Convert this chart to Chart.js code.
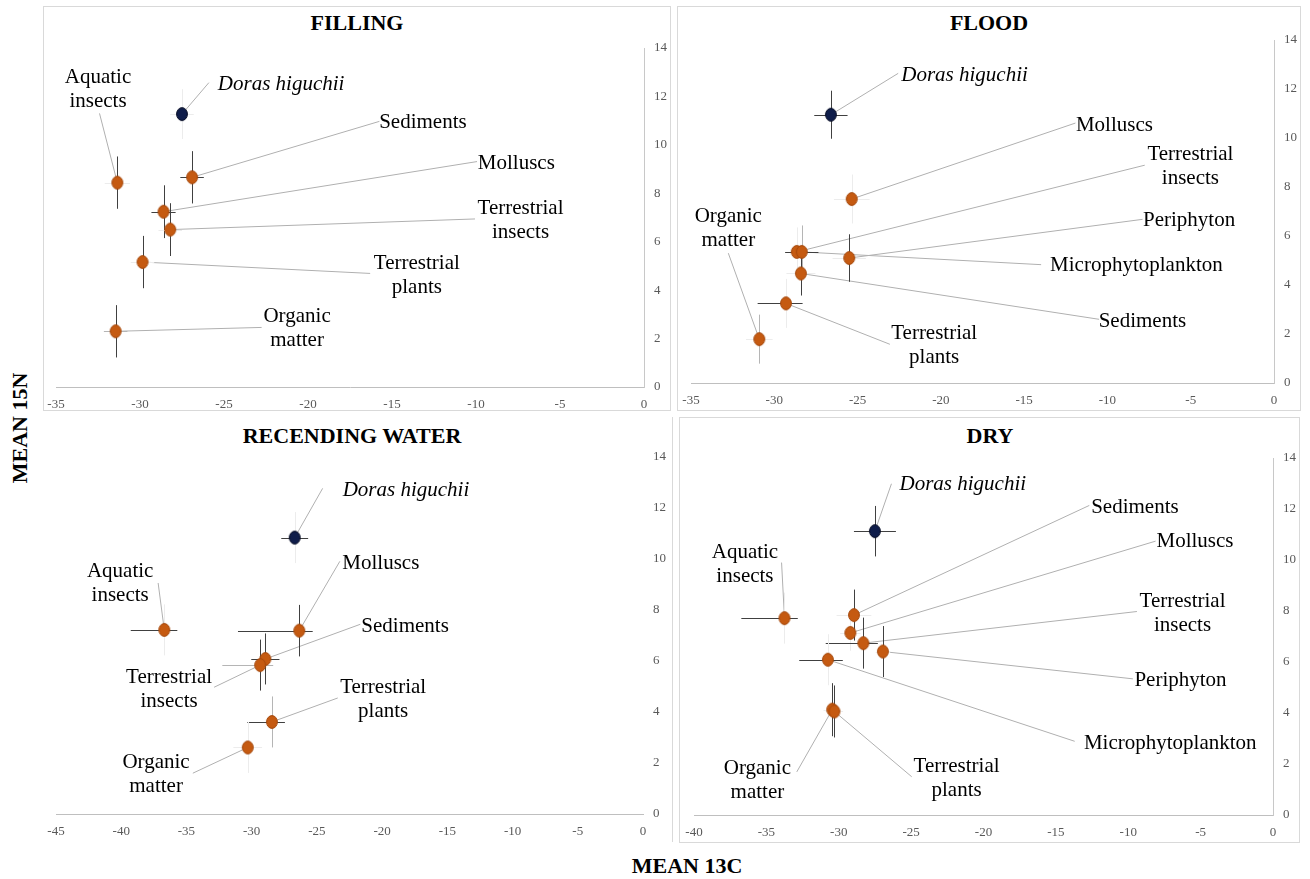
<!DOCTYPE html>
<html>
<head>
<meta charset="utf-8">
<script src="https://cdn.jsdelivr.net/npm/chart.js@4.4.1/dist/chart.umd.min.js"></script>
<style>
  body { margin: 0; background: #fff; }
  #page { position: relative; width: 1310px; height: 879px; overflow: hidden; font-family: "Liberation Serif", "Times New Roman", serif; }
  #page canvas { position: absolute; left: 0; top: 0; }
  .box { position: absolute; border: 1px solid #d9d9d9; box-sizing: border-box; }
  .title { position: absolute; font-weight: bold; font-size: 22px; transform: translate(-50%, -50%); white-space: nowrap; color: #000; }
</style>
</head>
<body>
<div id="page">
  <div class="box" style="left:43px;top:6px;width:628px;height:405px"></div>
  <div class="box" style="left:677px;top:6px;width:624px;height:405px"></div>
  <div style="position:absolute;left:672px;top:417px;width:1px;height:425px;background:#d9d9d9"></div>
  <div class="box" style="left:679px;top:417px;width:621px;height:426px"></div>

  <div class="title" style="left:357px;top:23px">FILLING</div>
  <div class="title" style="left:989px;top:23px">FLOOD</div>
  <div class="title" style="left:352px;top:436px">RECENDING WATER</div>
  <div class="title" style="left:990px;top:436px">DRY</div>
  <div class="title" style="left:20px;top:428px;transform:translate(-50%,-50%) rotate(-90deg)">MEAN 15N</div>
  <div class="title" style="left:687px;top:866px">MEAN 13C</div>

  <canvas id="filling" width="1310" height="879"></canvas>
  <canvas id="flood" width="1310" height="879"></canvas>
  <canvas id="receding" width="1310" height="879"></canvas>
  <canvas id="dry" width="1310" height="879"></canvas>
</div>
<script>
// FILLING
const fillingNames = ["Doras higuchii", "Aquatic insects", "Sediments", "Molluscs", "Terrestrial insects", "Terrestrial plants", "Organic matter"]
const fillingC = [-27.5, -31.35, -26.9, -28.6, -28.2, -29.85, -31.45]
const fillingN = [11.27, 8.44, 8.66, 7.24, 6.5, 5.16, 2.3]
const fillingCErr = [0.7, 0.75, 0.7, 0.72, 0.7, 0.7, 0.7]
const fillingNErr = [1.03, 1.08, 1.08, 1.09, 1.09, 1.08, 1.08]
const fillingXRange = [-35, 0]

// FLOOD
const floodNames = ["Doras higuchii", "Molluscs", "Terrestrial insects", "Periphyton", "Microphytoplankton", "Sediments", "Terrestrial plants", "Organic matter"]
const floodC = [-26.6, -25.35, -28.65, -25.5, -28.35, -28.4, -29.3, -30.9]
const floodN = [10.95, 7.51, 5.35, 5.1, 5.35, 4.47, 3.25, 1.79]
const floodCErr = [1.0, 1.07, 0.6, 1.0, 1.0, 0.87, [1.7, 1.0], 0.8]
const floodNErr = [0.98, 1.0, 1.0, 0.97, 1.08, 0.9, 1.0, 1.0]
const floodXRange = [-35, 0]

// RECENDING WATER
const recedingNames = ["Doras higuchii", "Aquatic insects", "Molluscs", "Sediments", "Terrestrial insects", "Terrestrial plants", "Organic matter"]
const recedingC = [-26.7, -36.7, -26.35, -28.95, -29.35, -28.45, -30.3]
const recedingN = [10.84, 7.22, 7.19, 6.08, 5.84, 3.61, 2.61]
const recedingCErr = [1.03, [2.57, 1.0], [4.7, 1.03], 1.08, [2.9, 1.0], [1.88, 1.0], 1.1]
const recedingNErr = [1.0, 1.0, 1.01, 1.0, 1.0, 1.0, 1.0]
const recedingXRange = [-45, 0]

// DRY
const dryNames = ["Doras higuchii", "Sediments", "Molluscs", "Aquatic insects", "Terrestrial insects", "Periphyton", "Microphytoplankton", "Organic matter", "Terrestrial plants"]
const dryC = [-27.5, -28.95, -29.2, -33.75, -28.3, -26.95, -30.75, -30.45, -30.3]
const dryN = [11.13, 7.84, 7.14, 7.72, 6.74, 6.41, 6.09, 4.13, 4.06]
const dryCErr = [1.45, 1.2, 0.7, [2.98, 0.92], [2.6, 1.0], 0.5, [1.98, 1.03], 0.6, 0.6]
const dryNErr = [0.99, 1.0, 0.7, 1.0, 1.0, 1.0, 1.0, 1.04, 1.02]
const dryXRange = [-40, 0]

const nRange = [0, 14]

// label placement: [text x, text y, leader start x, leader start y] in axis units
const fillingLabelAt = [
  [-21.6, 12.48, -25.9, 12.57], [-32.5, 12.28, -32.41, 11.3], [-13.16, 10.92, -15.75, 10.97],
  [-7.6, 9.24, -9.94, 9.31], [-7.35, 6.88, -10.06, 6.94], [-13.52, 4.61, -16.3, 4.69], [-20.65, 2.43, -22.76, 2.46]
]
const floodLabelAt = [
  [-18.58, 12.54, -22.56, 12.64], [-9.58, 10.51, -11.92, 10.61], [-5.02, 8.82, -7.76, 8.89], [-5.1, 6.63, -7.89, 6.68],
  [-8.26, 4.79, -13.98, 4.83], [-7.9, 2.5, -10.5, 2.6], [-20.4, 1.53, -23.06, 1.58], [-32.76, 6.3, -32.76, 5.3]
]
const recedingLabelAt = [
  [-18.17, 12.7, -24.56, 12.77], [-40.08, 9.04, -37.17, 9.06], [-20.1, 9.82, -23.24, 9.91], [-18.24, 7.35, -21.67, 7.44],
  [-36.33, 4.88, -32.88, 4.97], [-19.92, 4.49, -23.4, 4.55], [-37.33, 1.55, -34.51, 1.6]
]
const dryLabelAt = [
  [-21.43, 12.96, -26.36, 12.99], [-9.54, 12.05, -12.69, 12.14], [-5.39, 10.72, -8.11, 10.74], [-36.48, 9.83, -33.95, 9.9],
  [-6.25, 7.92, -9.4, 7.98], [-6.39, 5.27, -9.68, 5.34], [-7.1, 2.8, -13.7, 2.89], [-35.62, 1.37, -32.9, 1.69], [-21.86, 1.45, -24.96, 1.5]
]

// error bar tone: x/y = almost invisible, X/Y = light grey, otherwise dark
const fillingBarTone = ["xy", "x", "", "", "x", "x", "X"]
const floodBarTone = ["", "xy", "xy", "x", "Y", "x", "y", "xY"]
const recedingBarTone = ["y", "y", "", "", "X", "Y", "xy"]
const dryBarTone = ["", "x", "xy", "y", "", "x", "y", "x", "x"]

function dot(fill, edge) {
  const c = document.createElement("canvas")
  c.width = 14
  c.height = 16
  const g = c.getContext("2d")
  g.beginPath()
  g.ellipse(7, 8, 5.4, 6.4, 0, 0, Math.PI * 2)
  g.fillStyle = fill
  g.fill()
  g.lineWidth = 1
  g.strokeStyle = edge
  g.stroke()
  return c
}
const orangeDot = dot("#c55a11", "#a3470b")
const navyDot = dot("#0f1d4a", "#050b22")

function toneColor(tone, axis) {
  if (tone.includes(axis)) return "#ececec"
  if (tone.includes(axis.toUpperCase())) return "#b5b5b5"
  return "#404040"
}

function annotations(p) {
  return {
    id: "annotations",
    beforeDatasetsDraw(chart) {
      const { ctx } = chart
      const xs = chart.scales.x
      const ys = chart.scales.y
      ctx.save()
      ctx.lineWidth = 1
      ctx.strokeStyle = "#b0b0b0"
      p.names.forEach((name, i) => {
        const a = p.labelAt[i]
        ctx.beginPath()
        ctx.moveTo(xs.getPixelForValue(a[2]), ys.getPixelForValue(a[3]))
        ctx.lineTo(xs.getPixelForValue(p.c[i]), ys.getPixelForValue(p.n[i]))
        ctx.stroke()
      })
      p.names.forEach((name, i) => {
        const ce = Array.isArray(p.cErr[i]) ? p.cErr[i] : [p.cErr[i], p.cErr[i]]
        const ne = Array.isArray(p.nErr[i]) ? p.nErr[i] : [p.nErr[i], p.nErr[i]]
        const py = Math.round(ys.getPixelForValue(p.n[i])) + 0.5
        const px = Math.round(xs.getPixelForValue(p.c[i])) + 0.5
        ctx.strokeStyle = toneColor(p.tone[i], "x")
        ctx.beginPath()
        ctx.moveTo(xs.getPixelForValue(p.c[i] - ce[0]), py)
        ctx.lineTo(xs.getPixelForValue(p.c[i] + ce[1]), py)
        ctx.stroke()
        ctx.strokeStyle = toneColor(p.tone[i], "y")
        ctx.beginPath()
        ctx.moveTo(px, ys.getPixelForValue(p.n[i] - ne[0]))
        ctx.lineTo(px, ys.getPixelForValue(p.n[i] + ne[1]))
        ctx.stroke()
      })
      ctx.restore()
    },
    afterDatasetsDraw(chart) {
      const { ctx } = chart
      const xs = chart.scales.x
      const ys = chart.scales.y
      ctx.save()
      ctx.fillStyle = "#000"
      ctx.textAlign = "center"
      ctx.textBaseline = "middle"
      p.names.forEach((name, i) => {
        const a = p.labelAt[i]
        const species = name === "Doras higuchii"
        ctx.font = (species ? "italic " : "") + "21px 'Liberation Serif', serif"
        const lines = species ? [name] : name.split(" ")
        const cx = xs.getPixelForValue(a[0])
        const cy = ys.getPixelForValue(a[1]) - (lines.length - 1) * 12
        lines.forEach((t, k) => ctx.fillText(t, cx, cy + k * 24))
      })
      ctx.restore()
    }
  }
}

const tickFont = { family: "'Liberation Serif', serif", size: 13 }

function panel(id, p, area, xRange, showYLine) {
  const data = p.names.map((name, i) => ({ x: p.c[i], y: p.n[i], name: name }))
  new Chart(document.getElementById(id), {
    type: "scatter",
    data: {
      datasets: [{
        data: data,
        pointStyle: (c) => (c.raw && c.raw.name === "Doras higuchii" ? navyDot : orangeDot),
        pointRadius: 6
      }]
    },
    options: {
      responsive: false,
      animation: false,
      events: [],
      layout: {
        padding: { left: area[0], top: area[1], right: 1310 - area[2] - 40, bottom: 879 - area[3] - 30 }
      },
      plugins: { legend: { display: false }, tooltip: { enabled: false } },
      scales: {
        x: {
          type: "linear", position: "bottom", min: xRange[0], max: xRange[1],
          grid: { display: false, drawTicks: false },
          border: { display: true, color: "#bfbfbf" },
          ticks: { stepSize: 5, padding: 10, color: "#595959", font: tickFont, maxRotation: 0, autoSkip: false },
          afterFit: (s) => { s.height = 30 }
        },
        y: {
          type: "linear", position: "right", min: nRange[0], max: nRange[1],
          grid: { display: false, drawTicks: false },
          border: { display: showYLine, color: "#c8c8c8" },
          ticks: { stepSize: 2, padding: 10, color: "#595959", font: tickFont },
          afterFit: (s) => { s.width = 40 }
        }
      }
    },
    plugins: [annotations(p)]
  })
}

panel("filling", { names: fillingNames, c: fillingC, n: fillingN, cErr: fillingCErr, nErr: fillingNErr, labelAt: fillingLabelAt, tone: fillingBarTone }, [56, 48, 644, 387], fillingXRange, true)
panel("flood", { names: floodNames, c: floodC, n: floodN, cErr: floodCErr, nErr: floodNErr, labelAt: floodLabelAt, tone: floodBarTone }, [691, 40, 1274, 383], floodXRange, true)
panel("receding", { names: recedingNames, c: recedingC, n: recedingN, cErr: recedingCErr, nErr: recedingNErr, labelAt: recedingLabelAt, tone: recedingBarTone }, [56, 457, 643, 814], recedingXRange, false)
panel("dry", { names: dryNames, c: dryC, n: dryN, cErr: dryCErr, nErr: dryNErr, labelAt: dryLabelAt, tone: dryBarTone }, [694, 458, 1273, 815], dryXRange, true)
</script>
</body>
</html>
